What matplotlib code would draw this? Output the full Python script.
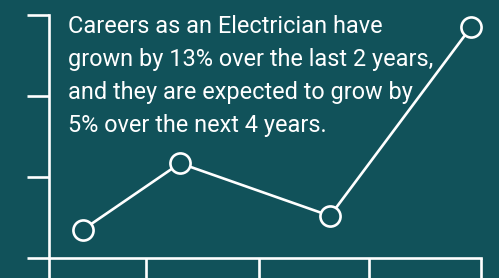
"""Electrician careers growth line chart -> out.png"""
import matplotlib
matplotlib.use("Agg")
import matplotlib.pyplot as plt

BG = "#11525a"
FG = "white"

# data (x in arbitrary time units, y in tick units)
x_ticks = [0, 0.97, 2.10, 3.20, 4.32]
y_ticks = [0, 1, 2, 3]
x_vals = [0.34, 1.31, 2.81, 4.22]
y_vals = [0.35, 1.17, 0.52, 2.85]

caption_lines = [
    "Careers as an Electrician have",
    "grown by 13% over the last 2 years,",
    "and they are expected to grow by",
    "5% over the next 4 years.",
]

fig = plt.figure(figsize=(4.99, 2.78), dpi=100, facecolor=BG)
ax = fig.add_axes([49 / 499, 20 / 278, 432 / 499, 243 / 278])
ax.set_facecolor(BG)

ax.plot(x_vals, y_vals, color=FG, lw=1.9, marker="o", ms=14.5,
        mfc=BG, mec=FG, mew=1.9, clip_on=False, zorder=3)

ax.set_xlim(x_ticks[0], x_ticks[-1])
ax.set_ylim(y_ticks[0], y_ticks[-1])
ax.set_xticks(x_ticks)
ax.set_yticks(y_ticks)
ax.set_xticklabels([]); ax.set_yticklabels([])
ax.tick_params(axis="both", direction="out", length=16, width=1.9, color=FG)
for s in ("top", "right"):
    ax.spines[s].set_visible(False)
for s in ("left", "bottom"):
    ax.spines[s].set_color(FG)
    ax.spines[s].set_linewidth(1.9)
    ax.spines[s].set_capstyle("projecting")

# caption: one text per line, baselines 33 px apart, widest line ~365 px
texts = []
for i, line in enumerate(caption_lines):
    t = ax.text(19 / 432, 1 - (18 + 33 * i) / 243, line, transform=ax.transAxes,
                ha="left", va="baseline", color=FG, fontsize=20,
                family=["Roboto", "DejaVu Sans"])
    texts.append(t)

renderer = fig.canvas.get_renderer()
for _ in range(2):
    w = texts[1].get_window_extent(renderer).width
    size = texts[1].get_fontsize() * 365 / w
    for t in texts:
        t.set_fontsize(size)

fig.savefig("out.png", dpi=100, facecolor=BG)
